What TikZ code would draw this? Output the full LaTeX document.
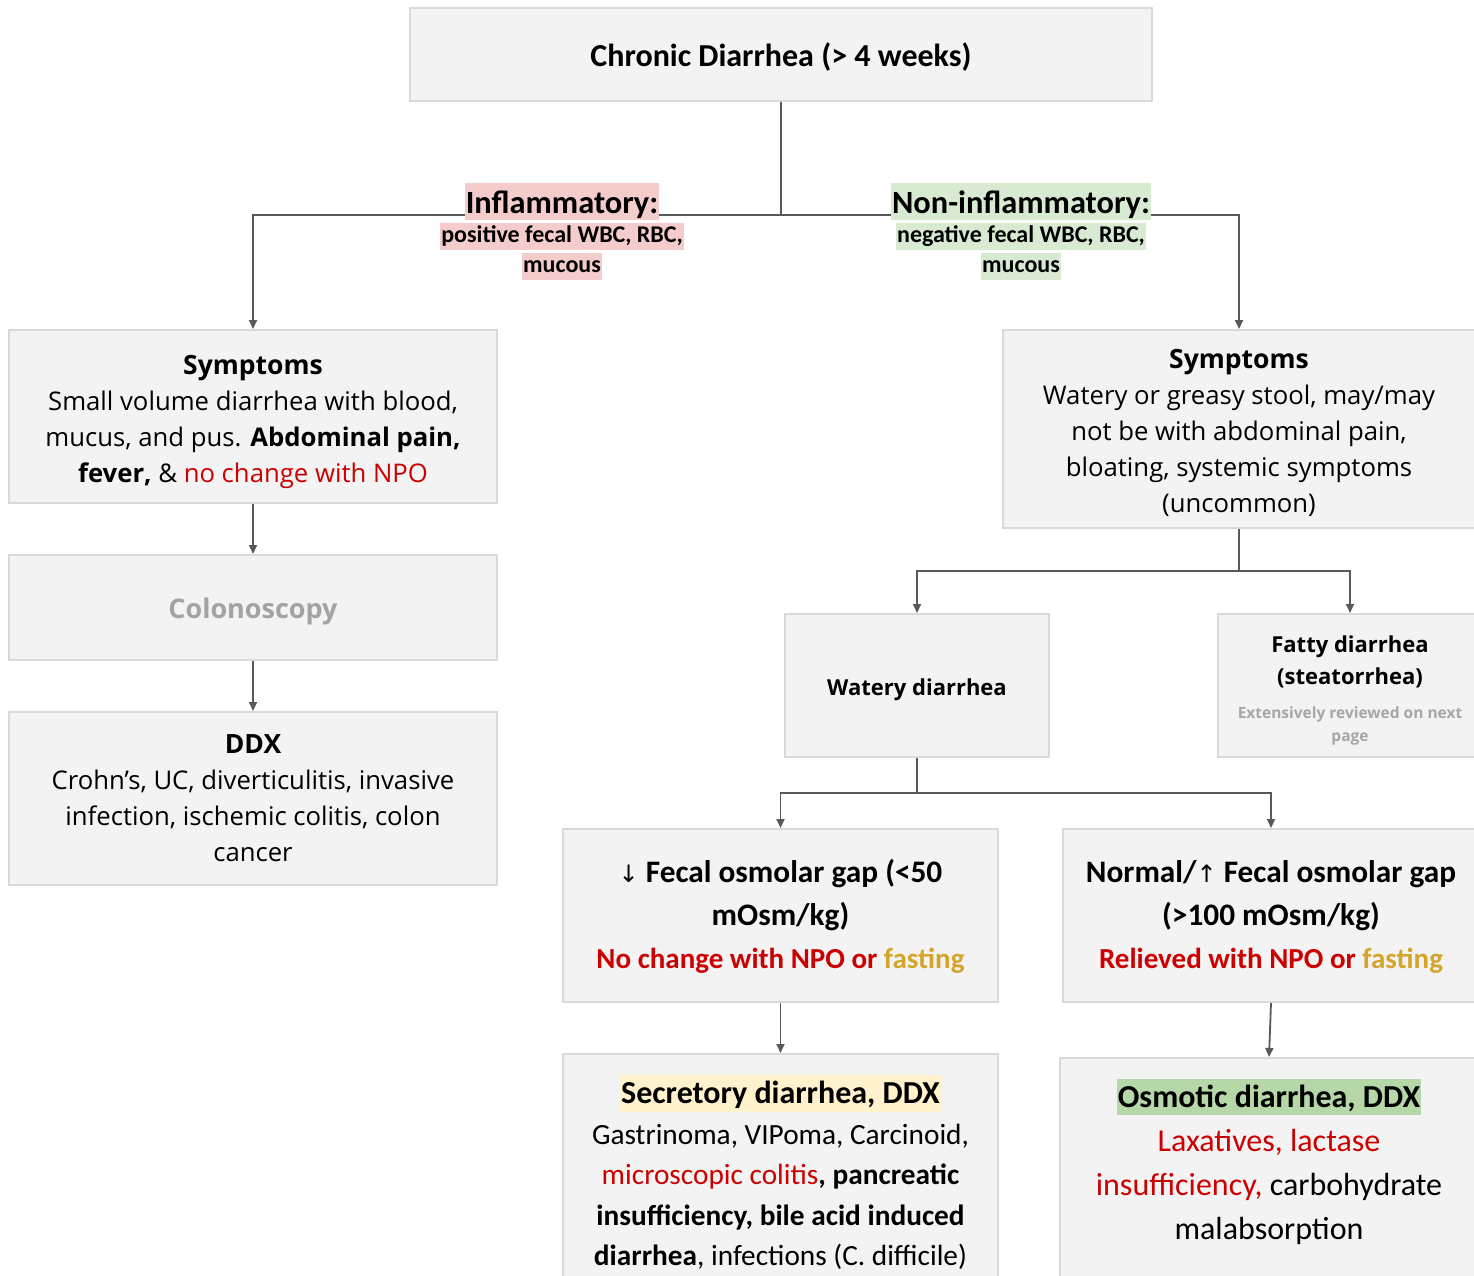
\documentclass[tikz,border=0pt]{standalone}
\usepackage{fontspec}
\setmainfont{Open Sans}
\newfontfamily\calfont{Carlito}
\newfontfamily\symfont{DejaVu Sans}
\usetikzlibrary{arrows.meta}

\definecolor{boxfill}{HTML}{F3F3F3}
\definecolor{boxline}{HTML}{D9D9D9}
\definecolor{linec}{HTML}{595959}
\definecolor{alert}{HTML}{CC0000}
\definecolor{gold}{HTML}{D4A52B}
\definecolor{colgray}{HTML}{A3A3A3}
\definecolor{notegray}{HTML}{A6A6A6}
\definecolor{pinkhl}{HTML}{F4CCCC}
\definecolor{greenhl}{HTML}{D9EAD3}
\definecolor{yellowhl}{HTML}{FFF2CC}
\definecolor{osmhl}{HTML}{B6D7A8}

% highlighted run of text: colour, height above baseline, depth, text
\newcommand\hl[4]{{\setlength{\fboxsep}{0pt}\colorbox{#1}{\rule[-#3]{0pt}{\dimexpr#2+#3\relax}\hspace{1pt}#4\hspace{1pt}}}}

\begin{document}
\begin{tikzpicture}[x=1pt,y=-1pt,
  box/.style={draw=boxline, line width=2pt, fill=boxfill, inner sep=0pt, align=center},
  % last baseline sits #1/2 below the node centre
  lastbase/.style={text height=#1, text depth=0pt},
  osfont/.style={font=\fontsize{25.7}{36}\selectfont},
  conn/.style={draw=linec, line width=1.8pt},
  arr/.style={conn, -{Triangle[length=9pt,width=8pt]}},
  tag/.style={inner sep=0pt, align=center,
    font=\calfont\bfseries\fontsize{24}{0}\selectfont\setlength\lineskip{3pt}\setlength\lineskiplimit{0pt}}
]
\useasboundingbox (0,0) rectangle (1474,1276);

% boxes
\node[box, lastbase=23.6pt, minimum width=742pt, minimum height=93pt,
  font=\calfont\bfseries\fontsize{32}{38}\selectfont] (title) at (781,54.5)
  {Chronic Diarrhea (> 4 weeks)};

\node[box, osfont, lastbase=131pt, minimum width=488pt, minimum height=173pt] (symL) at (253,416.5)
  {{\fontsize{26.5}{36}\selectfont\textbf{Symptoms}}\\Small volume diarrhea with blood,\\mucus, and pus. \textbf{Abdominal pain,}\\\textbf{fever,} \& \textcolor{alert}{no change with NPO}};

\node[box, lastbase=22pt, minimum width=488pt, minimum height=105pt, text=colgray,
  font=\bfseries\fontsize{27}{32}\selectfont] (colo) at (253,607.5) {Colonoscopy};

\node[box, osfont, lastbase=125pt, minimum width=488pt, minimum height=173pt] (ddxL) at (253,798.5)
  {{\fontsize{26.5}{36}\selectfont\textbf{DDX}}\\Crohn’s, UC, diverticulitis, invasive\\infection, ischemic colitis, colon\\cancer};

\node[box, osfont, lastbase=166pt, minimum width=472pt, minimum height=198pt] (symR) at (1239,429)
  {{\fontsize{26.5}{36}\selectfont\textbf{Symptoms}}\\Watery or greasy stool, may/may\\not be with abdominal pain,\\bloating, systemic symptoms\\(uncommon)};

\node[box, lastbase=19pt, minimum width=264pt, minimum height=143pt,
  font=\bfseries\fontsize{22}{32}\selectfont] (watery) at (917,685.5) {Watery diarrhea};

\node[box, lastbase=66pt, minimum width=264pt, minimum height=143pt,
  font=\bfseries\fontsize{22}{32}\selectfont] (fatty) at (1350,685.5)
  {Fatty diarrhea\\(steatorrhea)\\[2.5pt]
   {\fontsize{15.5}{23}\selectfont\color{notegray}\begin{tabular}[t]{@{}c@{}}Extensively reviewed on next\\page\end{tabular}}};

\node[box, lastbase=105pt, minimum width=435pt, minimum height=173pt,
  font=\calfont\bfseries\fontsize{31.3}{43}\selectfont] (fecD) at (780.5,915.5)
  {{\symfont\mdseries\fontsize{24}{24}\selectfont ↓} Fecal osmolar gap (<50\\mOsm/kg)\\
   \fontsize{29}{43}\selectfont\textcolor{alert}{No change with NPO or} \textcolor{gold}{fasting}};

\node[box, lastbase=105pt, minimum width=416pt, minimum height=173pt,
  font=\calfont\bfseries\fontsize{31.3}{43}\selectfont] (fecU) at (1271,915.5)
  {Normal/{\symfont\mdseries\fontsize{24}{24}\selectfont ↑} Fecal osmolar gap\\(>100 mOsm/kg)\\
   \fontsize{29}{43}\selectfont\textcolor{alert}{Relieved with NPO or} \textcolor{gold}{fasting}};

\node[box, lastbase=182pt, minimum width=435pt, minimum height=241pt,
  font=\calfont\fontsize{29.3}{40.5}\selectfont] (sec) at (780.5,1174.5)
  {\hl{yellowhl}{29pt}{8pt}{\bfseries\fontsize{32}{36}\selectfont Secretory diarrhea, DDX}\\
   Gastrinoma, VIPoma, Carcinoid,\\
   \textcolor{alert}{microscopic colitis}\textbf{, pancreatic}\\
   \textbf{insufficiency, bile acid induced}\\
   \textbf{diarrhea}, infections (C. difficile)};

\node[box, lastbase=122pt, minimum width=418pt, minimum height=240pt,
  font=\calfont\fontsize{32}{44}\selectfont] (osm) at (1269,1178)
  {\hl{osmhl}{28pt}{8pt}{\bfseries\fontsize{32}{36}\selectfont Osmotic diarrhea, DDX}\\
   \textcolor{alert}{Laxatives, lactase}\\
   \textcolor{alert}{insufficiency,} carbohydrate\\
   malabsorption};

% connectors
\coordinate (j1) at (781,215);
\draw[conn] (title.south) -- (j1);
\draw[arr] (j1) -| (symL.north);
\draw[arr] (j1) -| (symR.north);
\draw[arr] (symL.south) -- (colo.north);
\draw[arr] (colo.south) -- (ddxL.north);

\coordinate (j2) at (1239,571);
\draw[conn] (symR.south) -- (j2);
\draw[arr] (j2) -| (watery.north);
\draw[arr] (j2) -| (fatty.north);

\coordinate (j3) at (917,793);
\draw[conn] (watery.south) -- (j3);
\draw[arr] (j3) -| (fecD.north);
\draw[arr] (j3) -| (fecU.north);

\draw[arr] (fecD.south) -- (sec.north);
\draw[arr] (fecU.south) -- (osm.north);

% branch labels
\node[tag] (infl) at (562,231.5)
  {\hl{pinkhl}{30pt}{6pt}{\fontsize{32.4}{0}\selectfont Inflammatory:}\\
   \hl{pinkhl}{20pt}{7pt}{positive fecal WBC, RBC,}\\
   \hl{pinkhl}{20pt}{7pt}{mucous}};
\node[tag] (noninfl) at (1021,231.5)
  {\hl{greenhl}{30pt}{6pt}{\fontsize{32.4}{0}\selectfont Non-inflammatory:}\\
   \hl{greenhl}{20pt}{7pt}{negative fecal WBC, RBC,}\\
   \hl{greenhl}{20pt}{7pt}{mucous}};
\end{tikzpicture}
\end{document}
